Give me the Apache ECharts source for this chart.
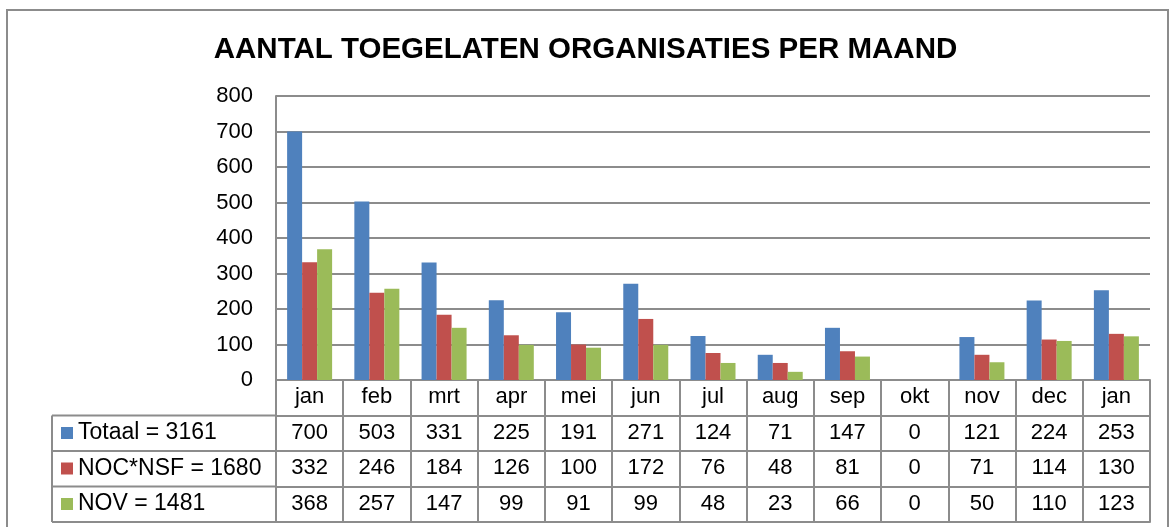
<!DOCTYPE html>
<html>
<head>
<meta charset="utf-8">
<script src="https://cdn.jsdelivr.net/npm/echarts@6/dist/echarts.min.js"></script>
<style>
html, body { margin: 0; padding: 0; background: #fff; }
#main { width: 1171px; height: 527px; }
</style>
</head>
<body>
<div id="main"></div>
<script>
// maanden en aantallen per reeks
var months = ['jan', 'feb', 'mrt', 'apr', 'mei', 'jun', 'jul', 'aug', 'sep', 'okt', 'nov', 'dec', 'jan'];
var seriesNames = ['Totaal = 3161', 'NOC*NSF = 1680', 'NOV = 1481'];
var totaal = [700, 503, 331, 225, 191, 271, 124, 71, 147, 0, 121, 224, 253];
var nocnsf = [332, 246, 184, 126, 100, 172, 76, 48, 81, 0, 71, 114, 130];
var nov = [368, 257, 147, 99, 91, 99, 48, 23, 66, 0, 50, 110, 123];
var yTicks = [0, 100, 200, 300, 400, 500, 600, 700, 800];

var colors = ['#4F81BD', '#C0504D', '#9BBB59'];
var lineColor = '#8c8c8c';
var rowH = 35.5;
var font = 'Liberation Sans, Arial, sans-serif';

var myChart = echarts.init(document.getElementById('main'));

// extra x-assen vormen de rijen van de datatabel
function tableAxis(idx, values, showTicks) {
    return {
        type: 'category',
        data: months,
        position: 'bottom',
        offset: rowH * idx,
        axisLine: {show: true, lineStyle: {color: lineColor, width: 2}},
        axisTick: {show: showTicks, length: rowH, interval: 0, alignWithLabel: false,
            lineStyle: {color: lineColor, width: 2}},
        axisLabel: {
            show: showTicks,
            interval: 0,
            margin: 6,
            color: '#000',
            fontSize: 22,
            fontFamily: font,
            formatter: function (v, i) {
                return values ? String(values[i]) : v;
            }
        },
        splitLine: {show: false}
    };
}

var option = {
    animation: false,
    color: colors,
    title: {
        text: 'AANTAL TOEGELATEN ORGANISATIES PER MAAND',
        left: 'center',
        top: 35,
        padding: 0,
        textStyle: {fontFamily: font, fontSize: 29.5, fontWeight: 'bold', color: '#000'}
    },
    legend: {
        orient: 'vertical',
        left: 61,
        top: 420,
        padding: 0,
        itemWidth: 12,
        itemHeight: 12,
        itemGap: 9.5,
        icon: 'rect',
        selectedMode: false,
        textStyle: {fontFamily: font, fontSize: 23, color: '#000', lineHeight: 26},
        data: seriesNames
    },
    grid: {
        left: 276,
        right: 21,
        top: 96,
        bottom: 147,
        outerBoundsMode: 'none',
        containLabel: false
    },
    xAxis: [
        tableAxis(0, null, true),
        tableAxis(1, totaal, true),
        tableAxis(2, nocnsf, true),
        tableAxis(3, nov, true),
        tableAxis(4, null, false)
    ],
    yAxis: {
        type: 'value',
        min: yTicks[0],
        max: yTicks[yTicks.length - 1],
        interval: 100,
        axisLine: {show: true, lineStyle: {color: lineColor, width: 2}},
        axisTick: {show: false},
        axisLabel: {color: '#000', fontSize: 22, fontFamily: font, margin: 23},
        splitLine: {show: true, lineStyle: {color: lineColor, width: 2}}
    },
    series: [
        {name: seriesNames[0], type: 'bar', data: totaal, barWidth: 15, barGap: '0%'},
        {name: seriesNames[1], type: 'bar', data: nocnsf, barWidth: 15, barGap: '0%'},
        {name: seriesNames[2], type: 'bar', data: nov, barWidth: 15, barGap: '0%'}
    ],
    graphic: [
        {type: 'rect', shape: {x: 7, y: 10, width: 1161, height: 530},
            style: {fill: 'none', stroke: lineColor, lineWidth: 2}, silent: true},
        {type: 'line', shape: {x1: 52, y1: 380 + rowH, x2: 52, y2: 380 + rowH * 4},
            style: {stroke: lineColor, lineWidth: 2}},
        {type: 'line', shape: {x1: 52, y1: 380 + rowH, x2: 276, y2: 380 + rowH},
            style: {stroke: lineColor, lineWidth: 2}},
        {type: 'line', shape: {x1: 52, y1: 380 + rowH * 2, x2: 276, y2: 380 + rowH * 2},
            style: {stroke: lineColor, lineWidth: 2}},
        {type: 'line', shape: {x1: 52, y1: 380 + rowH * 3, x2: 276, y2: 380 + rowH * 3},
            style: {stroke: lineColor, lineWidth: 2}},
        {type: 'line', shape: {x1: 52, y1: 380 + rowH * 4, x2: 276, y2: 380 + rowH * 4},
            style: {stroke: lineColor, lineWidth: 2}}
    ]
};

myChart.setOption(option);
</script>
</body>
</html>
